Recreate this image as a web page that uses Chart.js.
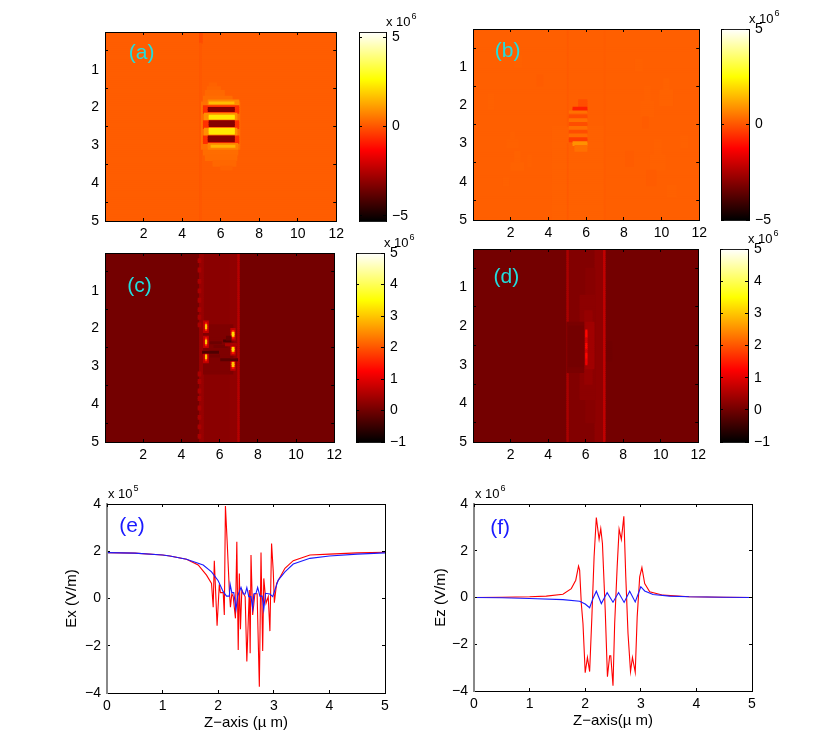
<!DOCTYPE html>
<html>
<head>
<meta charset="utf-8">
<script src="https://cdn.jsdelivr.net/npm/chart.js@4"></script>
<style>
body { margin: 0; background: #fff; }
#page { position: relative; width: 830px; height: 756px; overflow: hidden; }
canvas { position: absolute; }
canvas.heat { filter: blur(0.5px); }
</style>
</head>
<body>
<div id="page"></div>
<script>
// heat map tick labels
var zTicks = [2, 4, 6, 8, 10, 12];
var yTicks = [1, 2, 3, 4, 5];
var barTicksAB = [-5, 0, 5];
var barTicksCD = [-1, 0, 1, 2, 3, 4, 5];
var lineZTicks = [0, 1, 2, 3, 4, 5];
var lineVTicks = [-4, -2, 0, 2, 4];

// heat map regions: [y0, y1, z0, z1, value in 1e6]
var panelA = [
  [0, 5, 0, 12, 0.12],
  [0, 0.3, 4.9, 5.05, -0.15], [0.3, 5, 4.9, 5.0, 0.04],
  [1.35, 1.45, 5.4, 5.8, 0.2], [1.45, 1.55, 5.3, 6.0, 0.25], [1.55, 1.7, 5.2, 6.2, 0.3],
  [1.7, 1.85, 5.1, 6.6, 0.36], [1.85, 3.1, 5.0, 7.0, 0.42], [3.1, 3.25, 5.1, 6.9, 0.38],
  [3.25, 3.4, 5.2, 6.85, 0.34], [3.4, 3.55, 5.6, 6.8, 0.28], [3.55, 3.65, 6.0, 6.6, 0.2],
  [1.8, 1.96, 5.35, 6.95, 0.8], [1.85, 1.92, 5.4, 6.7, 1.6],
  [1.95, 2.15, 5.1, 6.95, -0.6], [1.98, 2.12, 5.35, 6.72, -3.2],
  [2.15, 2.34, 5.15, 6.85, 0.9], [2.18, 2.31, 5.4, 6.72, 2.3],
  [2.34, 2.53, 5.1, 6.95, -0.6], [2.37, 2.5, 5.4, 6.72, -3.2],
  [2.53, 2.74, 5.15, 6.85, 0.9], [2.57, 2.71, 5.4, 6.72, 2.3],
  [2.74, 2.93, 5.1, 6.95, -0.6], [2.77, 2.9, 5.35, 6.72, -3.2],
  [2.94, 3.08, 5.35, 6.9, 0.7], [2.98, 3.05, 5.5, 6.75, 1.5]
];
var panelB = [
  [0, 5, 0, 12, 0.14],
  [2.55, 5, 4.2, 7, 0.17],
  [3.2, 3.5, 2.2, 2.5, 0.19], [3.5, 3.7, 2.0, 2.7, 0.19], [3.3, 3.6, 2.9, 3.1, 0.18],
  [2.7, 2.9, 2.0, 2.2, 0.17], [2.9, 3.1, 1.8, 2.4, 0.17], [3.9, 4.1, 1.6, 1.9, 0.17],
  [1.7, 2.1, 0.8, 1.1, 0.17], [0.7, 1.0, 2.2, 2.6, 0.17], [1.2, 1.5, 3.4, 3.7, 0.11],
  [1.5, 1.9, 9.1, 9.4, 0.18], [1.9, 2.3, 8.9, 9.6, 0.18], [2.3, 2.6, 9.0, 9.3, 0.11],
  [1.3, 1.6, 10.1, 10.4, 0.19], [1.6, 2.0, 9.9, 10.6, 0.19], [2.9, 3.3, 9.6, 10, 0.18],
  [3.3, 3.7, 9.4, 10.2, 0.18], [3.7, 4.1, 9.2, 9.7, 0.11], [4.1, 4.4, 10.3, 10.8, 0.18],
  [2.8, 3.1, 11, 11.4, 0.17], [3.2, 3.6, 8.1, 8.5, 0.11], [0.8, 1.1, 8.6, 9, 0.17],
  [0, 2.55, 5.0, 5.04, 0.08], [3, 5, 5.0, 5.04, 0.08], [0, 5, 6.96, 7.0, 0.1],
  [1.85, 2.03, 5.6, 6.05, -0.1], [2.03, 2.13, 5.3, 6.05, -0.8],
  [2.16, 2.22, 5.1, 6.05, 0.4], [2.26, 2.33, 5.1, 6.05, -0.15], [2.37, 2.43, 5.1, 6.05, 0.4],
  [2.47, 2.53, 5.1, 6.05, -0.12], [2.57, 2.63, 5.1, 6.05, 0.4], [2.67, 2.73, 5.1, 6.05, -0.12],
  [2.77, 2.83, 5.1, 6.05, 0.35], [2.87, 2.93, 5.1, 6.05, -0.35], [2.96, 3.05, 5.3, 6.05, 0.9],
  [3.05, 3.2, 5.4, 6.05, 0.4]
];
var beadRowsC = [0.2, 0.45, 0.75, 1.0, 1.25, 1.5, 1.7, 1.9, 3.2, 3.4, 3.65, 3.85, 4.1, 4.35, 4.6, 4.85];
var panelC = [
  [0, 5, 0, 12, 0.02],
  [0, 5, 4.95, 7, 0.22],
  [0, 5, 4.95, 5.15, 0.34],
  [0, 5, 6.55, 6.95, 0.27],
  [0, 5, 6.95, 7.03, 0.6],
  [1.9, 3.2, 5.15, 6.7, 0.12],
  [1.8, 2.1, 5.15, 5.42, 0.7], [2.2, 2.5, 5.15, 5.42, 0.7], [2.6, 2.9, 5.15, 5.42, 0.7],
  [2.0, 2.3, 6.58, 6.82, 0.7], [2.4, 2.7, 6.58, 6.82, 0.7], [2.8, 3.1, 6.58, 6.82, 0.7],
  [1.85, 2.05, 5.25, 5.33, 1.5], [2.25, 2.45, 5.25, 5.33, 1.5], [2.65, 2.85, 5.25, 5.33, 1.5],
  [2.05, 2.25, 6.65, 6.76, 1.5], [2.45, 2.65, 6.65, 6.76, 1.5], [2.85, 3.05, 6.65, 6.76, 1.5],
  [1.9, 2.0, 5.25, 5.33, 3.0], [2.3, 2.4, 5.25, 5.33, 3.0], [2.7, 2.8, 5.25, 5.33, 3.0],
  [2.1, 2.2, 6.65, 6.76, 3.2], [2.5, 2.6, 6.65, 6.76, 3.2], [2.9, 3.0, 6.65, 6.76, 3.0],
  [2.6, 2.65, 5.1, 5.95, -0.3], [2.33, 2.38, 5.5, 6.1, -0.05], [2.8, 2.85, 6.05, 6.95, -0.2],
  [2.28, 2.33, 6.2, 6.6, -0.35], [2.2, 2.28, 6.35, 6.6, -0.1], [2.45, 2.5, 5.7, 6.4, 0.02],
  [2.7, 2.75, 5.5, 6.0, 0.02], [2.4, 2.45, 6.3, 6.9, 0.5]
];
var panelD = [
  [0, 5, 0, 12, 0.02],
  [2.4, 2.9, 7, 7.4, 0.0],
  [0, 5, 5, 7, 0.15],
  [0, 5, 6.5, 6.95, 0.26],
  [0, 5, 5, 5.08, 0.5],
  [0, 5, 6.95, 7.04, 0.7],
  [0.5, 4.5, 6.0, 6.5, 0.2], [1.2, 3.9, 5.7, 6.5, 0.24],
  [1.9, 3.2, 5, 5.95, 0.08], [2.0, 3.05, 5.1, 5.95, 0.02],
  [1.6, 3.5, 5.95, 6.35, 0.32], [1.9, 3.1, 6.0, 6.45, 0.42],
  [2.1, 2.3, 6.0, 6.08, 1.3], [2.3, 2.45, 6.0, 6.08, 0.9], [2.45, 2.58, 6.0, 6.08, 1.3],
  [2.58, 2.72, 6.0, 6.08, 0.9], [2.72, 2.85, 6.0, 6.08, 1.3], [2.85, 3.02, 6.0, 6.08, 1.1]
];
beadRowsC.forEach(function(y) {
  panelC.splice(5, 0, [y - 0.07, y + 0.07, 4.87, 5.02, 0.5]);
});

// line values, in 1e5 V/m for (e) and 1e6 V/m for (f)
var exRedZ = [0, 0.5, 1, 1.13, 1.43, 1.64, 1.79, 1.88, 1.91, 1.93, 1.98, 2.02, 2.04, 2.09, 2.11, 2.13, 2.16, 2.2, 2.22, 2.245, 2.27, 2.31, 2.335, 2.36, 2.38, 2.4, 2.425, 2.485, 2.515, 2.56, 2.575, 2.59, 2.62, 2.66, 2.7, 2.74, 2.77, 2.8, 2.82, 2.86, 2.9, 2.93, 2.96, 2.99, 3.01, 3.05, 3.2, 3.35, 3.65, 4, 4.5, 5];
var exRedV = [1.94, 1.92, 1.84, 1.8, 1.66, 1.42, 0.99, 0.64, -0.37, 1.6, -1.15, 0.6, 0.25, 0.25, -0.7, 3.91, 2.47, 0.36, -0.37, 0.2, 0.08, -0.84, 2.4, -2.18, 1.06, -1.3, 0.36, 0.07, -2.67, 0.36, -2.32, 1.84, -0.7, 0.2, 0.2, -3.73, 1.95, -2.22, 0.85, -0.2, 0.08, -1.38, 2.33, 1.16, -0.18, 0.64, 1.28, 1.6, 1.84, 1.88, 1.93, 1.96];
var exBlueZ = [0, 0.5, 1, 1.13, 1.43, 1.73, 1.88, 2.0, 2.09, 2.15, 2.2, 2.215, 2.245, 2.28, 2.32, 2.35, 2.41, 2.45, 2.485, 2.515, 2.55, 2.59, 2.62, 2.64, 2.68, 2.71, 2.75, 2.79, 2.82, 2.85, 2.93, 2.98, 3.02, 3.08, 3.2, 3.35, 3.65, 4, 4.5, 5];
var exBlueV = [1.94, 1.92, 1.84, 1.8, 1.66, 1.42, 1.13, 0.75, 0.29, 0.1, 0.1, 0.6, 0.25, 0.25, -0.46, 0.1, 0.47, 0.19, 0.19, 0.46, 0.08, 0.08, -0.42, 0.19, 0.22, 0.47, 0.1, 0.1, -0.46, 0.22, 0.19, 0.08, 0.36, 0.78, 1.13, 1.46, 1.7, 1.8, 1.88, 1.93];
var ezRedZ = [0, 0.5, 1, 1.3, 1.6, 1.75, 1.83, 1.88, 1.9, 1.93, 1.96, 2.0, 2.04, 2.08, 2.12, 2.16, 2.2, 2.25, 2.28, 2.31, 2.36, 2.4, 2.44, 2.46, 2.5, 2.53, 2.575, 2.61, 2.65, 2.695, 2.73, 2.77, 2.815, 2.85, 2.9, 2.935, 2.98, 3.02, 3.07, 3.16, 3.4, 3.87, 4.5, 5];
var ezRedV = [0, 0.01, 0.03, 0.06, 0.14, 0.38, 0.74, 1.34, 1.17, -0.26, -1.11, -3.22, -2.56, -3.17, -0.83, 1.74, 3.42, 2.49, 2.95, 2.31, -0.54, -3.39, -2.49, -2.49, -3.77, -1.11, 1.31, 2.92, 2.48, 3.47, 0.88, -1.54, -3.17, -2.56, -3.2, -0.83, 0.88, 1.28, 0.6, 0.24, 0.1, 0.03, 0.01, 0];
var ezBlueZ = [0, 0.5, 1, 1.6, 1.9, 2.0, 2.08, 2.14, 2.2, 2.29, 2.395, 2.5, 2.6, 2.7, 2.8, 2.9, 3.0, 3.07, 3.22, 3.52, 3.87, 4.5, 5];
var ezBlueV = [0, -0.01, -0.04, -0.09, -0.16, -0.28, -0.44, -0.04, 0.27, -0.26, 0.21, -0.2, 0.21, -0.21, 0.27, -0.19, 0.46, 0.28, 0.13, 0.06, 0.03, 0.01, 0];

// MATLAB hot colormap
var hotStops = [[0, [0, 0, 0]], [0.375, [255, 0, 0]], [0.75, [255, 255, 0]], [1, [255, 255, 255]]];
function hot(t) {
  t = Math.max(0, Math.min(1, t));
  for (var i = 1; i < hotStops.length; i++) {
    if (t <= hotStops[i][0]) {
      var a = hotStops[i - 1], b = hotStops[i];
      var f = (t - a[0]) / (b[0] - a[0]);
      return 'rgb(' + [0, 1, 2].map(function(k) { return Math.round(a[1][k] + (b[1][k] - a[1][k]) * f); }).join(',') + ')';
    }
  }
  return 'rgb(255,255,255)';
}

Chart.defaults.font.family = '"Liberation Sans", Arial, sans-serif';
Chart.defaults.font.size = 14;
Chart.defaults.color = '#000';
Chart.defaults.animation = false;

var rowStep = 0.05;
function toRows(patches) {
  var rows = [];
  patches.forEach(function(p) {
    var i0 = Math.round(p[0] / rowStep), i1 = Math.max(i0 + 1, Math.round(p[1] / rowStep));
    for (var i = i0; i < i1; i++) {
      rows.push({ y: (i + 0.5) * rowStep, x: [p[2], p[3]], v: p[4] });
    }
  });
  return rows;
}

function minus(v) { return String(v).replace('-', '\u2212'); }

function setTicks(list) {
  return function(s) { s.ticks = list.map(function(v) { return { value: v }; }); };
}
function setSize(key, n) {
  return function(s) { s[key] = n; };
}

// axis with inward ticks, drawn above the bars; labelled only if showLabels
function makeAxis(position, min, max, ticks, size, showLabels) {
  var horizontal = position === 'top' || position === 'bottom';
  return {
    type: 'linear', position: position, min: min, max: max, offset: false,
    afterBuildTicks: setTicks(ticks),
    afterFit: setSize(horizontal ? 'height' : 'width', size),
    border: { display: true, color: '#000', width: 1, z: 1 },
    grid: { drawOnChartArea: false, tickLength: -3, tickColor: '#000', z: 1 },
    ticks: {
      display: !!showLabels, autoSkip: false, maxRotation: 0, minRotation: 0,
      padding: horizontal ? 8 : 9, callback: minus
    }
  };
}

function textPlugin(note, power, tag) {
  return {
    id: 'notes',
    afterDraw: function(chart) {
      var c = chart.ctx, a = chart.chartArea;
      c.save();
      c.fillStyle = '#000';
      c.textBaseline = 'alphabetic';
      c.textAlign = 'left';
      if (power) {
        var px = note === 'bar' ? a.right : a.left + 1;
        c.font = '13px "Liberation Sans"';
        c.fillText('x 10', px, a.top - 6);
        var w = c.measureText('x 10').width;
        c.font = '9px "Liberation Sans"';
        c.fillText(power, px + w + 1, a.top - 13);
      }
      if (tag) {
        c.font = '21px "Liberation Sans"';
        c.fillStyle = tag.color;
        c.textAlign = 'center';
        c.textBaseline = 'middle';
        c.fillText(tag.text,
          chart.scales.x.getPixelForValue(tag.x),
          chart.scales.y.getPixelForValue(tag.y));
      }
      c.restore();
    }
  };
}

function addCanvas(box, m, cls) {
  var cv = document.createElement('canvas');
  cv.width = box.r - box.l + m.left + m.right;
  cv.height = box.b - box.t + m.top + m.bottom;
  cv.style.left = (box.l - m.left) + 'px';
  cv.style.top = (box.t - m.top) + 'px';
  if (cls) cv.className = cls;
  document.getElementById('page').appendChild(cv);
  return cv;
}

function heatPanel(box, patches, range, tag) {
  var m = { left: 40, top: 26, right: 14, bottom: 28 };
  var rowPx = (box.b - box.t) / 5 * rowStep + 0.4;
  var y = makeAxis('left', 0, 5, yTicks, m.left, true);
  var yRight = makeAxis('right', 0, 5, yTicks, 0);
  y.reverse = true;
  yRight.reverse = true;
  new Chart(addCanvas(box, m, 'heat'), {
    type: 'bar',
    data: {
      datasets: [{
        data: toRows(patches),
        grouped: false,
        barThickness: rowPx,
        borderWidth: 0,
        backgroundColor: function(ctx) {
          return ctx.raw ? hot((ctx.raw.v - range[0]) / (range[1] - range[0])) : '#000';
        }
      }]
    },
    options: {
      indexAxis: 'y',
      responsive: false,
      layout: { padding: { left: 0, top: m.top, right: m.right, bottom: 0 } },
      plugins: { legend: { display: false }, tooltip: { enabled: false } },
      scales: {
        x: makeAxis('bottom', 0, 12, zTicks, m.bottom, true),
        y: y,
        xTop: makeAxis('top', 0, 12, zTicks, 0),
        yRight: yRight
      }
    },
    plugins: [textPlugin('heat', null, tag)]
  });
}

function colorBar(box, range, ticks) {
  // bottom margin must hold half a tick label plus its padding, or the plot area shrinks
  var m = { left: 4, top: 26, right: 40, bottom: 20 };
  var labels = [''];
  new Chart(addCanvas(box, m), {
    type: 'bar',
    data: {
      labels: labels,
      datasets: [{
        data: [range],
        categoryPercentage: 1,
        barPercentage: 1,
        borderWidth: 0,
        backgroundColor: function(ctx) {
          var a = ctx.chart.chartArea;
          if (!a) return '#000';
          var g = ctx.chart.ctx.createLinearGradient(0, a.bottom, 0, a.top);
          hotStops.forEach(function(s) { g.addColorStop(s[0], 'rgb(' + s[1].join(',') + ')'); });
          return g;
        }
      }]
    },
    options: {
      responsive: false,
      layout: { padding: { left: m.left, top: m.top, right: 0, bottom: 0 } },
      plugins: { legend: { display: false }, tooltip: { enabled: false } },
      scales: {
        x: {
          type: 'category', position: 'bottom', afterFit: setSize('height', m.bottom),
          ticks: { display: false }, grid: { display: false },
          border: { display: true, color: '#222', z: 1 }
        },
        xTop: {
          type: 'category', position: 'top', labels: labels, afterFit: setSize('height', 0),
          ticks: { display: false }, grid: { display: false },
          border: { display: true, color: '#222', z: 1 }
        },
        y: makeAxis('right', range[0], range[1], ticks, m.right, true),
        yLeft: makeAxis('left', range[0], range[1], ticks, 0)
      }
    },
    plugins: [textPlugin('bar', '6', null)]
  });
}

function zip(xs, ys) {
  return xs.map(function(x, i) { return { x: x, y: ys[i] }; });
}

function linePanel(box, red, blue, title, yTitle, yPad, power, tag) {
  var m = { left: 47, top: 26, right: 14, bottom: 42 };
  var left = makeAxis('left', -4, 4, lineVTicks, m.left, true);
  left.border = { display: true, color: '#888', width: 2, z: 1 };
  left.title = { display: true, text: yTitle, font: { size: 15 }, padding: { top: yPad, bottom: 0 } };
  var bottom = makeAxis('bottom', 0, 5, lineZTicks, m.bottom, true);
  bottom.title = { display: true, text: title, font: { size: 15 }, padding: { top: 0, bottom: 3 } };
  new Chart(addCanvas(box, m), {
    type: 'line',
    data: {
      datasets: [
        { data: blue, borderColor: '#1a1aff', borderWidth: 1.1, pointRadius: 0, tension: 0 },
        { data: red, borderColor: '#ff0000', borderWidth: 1.1, pointRadius: 0, tension: 0 }
      ]
    },
    options: {
      responsive: false,
      layout: { padding: { left: 0, top: m.top, right: m.right, bottom: 0 } },
      plugins: { legend: { display: false }, tooltip: { enabled: false } },
      scales: {
        x: bottom,
        y: left,
        xTop: makeAxis('top', 0, 5, lineZTicks, 0),
        yRight: makeAxis('right', -4, 4, lineVTicks, 0)
      }
    },
    plugins: [textPlugin('line', power, tag)]
  });
}

var cyan = '#22dddd', blueTag = '#1a1aff';

heatPanel({ l: 105, t: 32, r: 338, b: 221 }, panelA, [-5.3, 5.3], { text: '(a)', x: 1.9, y: 0.55, color: cyan });
colorBar({ l: 359, t: 32, r: 386, b: 221 }, [-5.3, 5.3], barTicksAB);
heatPanel({ l: 473, t: 29, r: 701, b: 220 }, panelB, [-5, 5], { text: '(b)', x: 1.84, y: 0.57, color: cyan });
colorBar({ l: 721, t: 29, r: 749, b: 220 }, [-5, 5], barTicksAB);
heatPanel({ l: 105, t: 253, r: 336, b: 442 }, panelC, [-1, 5], { text: '(c)', x: 1.8, y: 0.89, color: cyan });
colorBar({ l: 356, t: 253, r: 384, b: 442 }, [-1, 5], barTicksCD);
heatPanel({ l: 473, t: 249, r: 700, b: 442 }, panelD, [-1, 5], { text: '(d)', x: 1.78, y: 0.72, color: cyan });
colorBar({ l: 720, t: 249, r: 748, b: 442 }, [-1, 5], barTicksCD);

linePanel({ l: 107, t: 504, r: 385, b: 693 }, zip(exRedZ, exRedV), zip(exBlueZ, exBlueV),
  'Z\u2212axis (\u00b5 m)', 'Ex (V/m)', 3, '5', { text: '(e)', x: 0.45, y: 3.08, color: blueTag });
linePanel({ l: 474, t: 504, r: 752, b: 691 }, zip(ezRedZ, ezRedV), zip(ezBlueZ, ezBlueV),
  'Z\u2212axis(\u00b5 m)', 'Ez (V/m)', 5, '6', { text: '(f)', x: 0.47, y: 2.97, color: blueTag });
</script>
</body>
</html>
